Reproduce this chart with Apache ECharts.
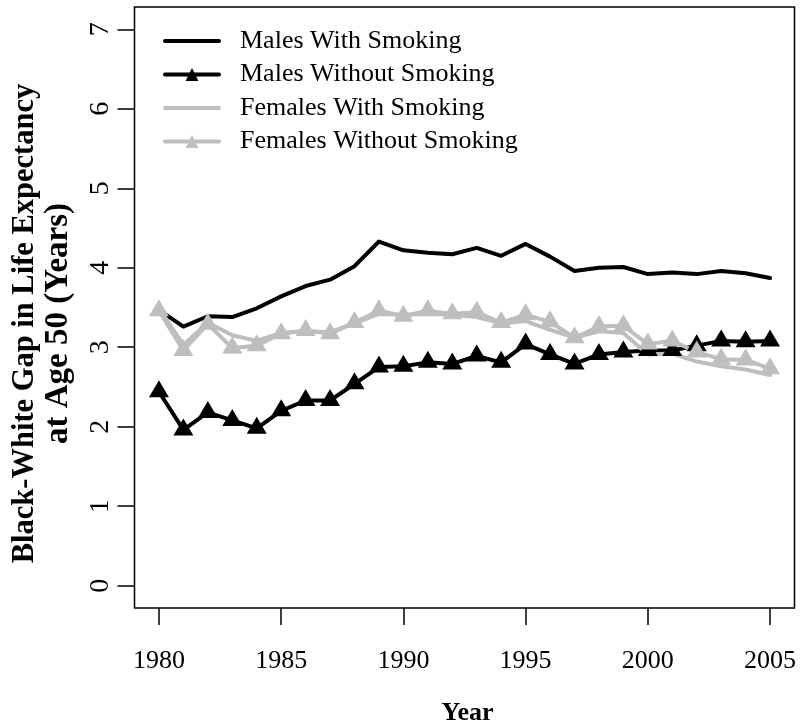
<!DOCTYPE html>
<html>
<head>
<meta charset="utf-8">
<script src="https://cdn.jsdelivr.net/npm/echarts@6/dist/echarts.min.js"></script>
<style>
  html, body { margin: 0; padding: 0; background: #fff; }
  #chart { width: 800px; height: 726px; }
</style>
</head>
<body>
<div id="chart"></div>
<script>
// Black-white gap in life expectancy at age 50, 1980-2005
const years = [1980, 1981, 1982, 1983, 1984, 1985, 1986, 1987, 1988, 1989,
               1990, 1991, 1992, 1993, 1994, 1995, 1996, 1997, 1998, 1999,
               2000, 2001, 2002, 2003, 2004, 2005];

const malesWithSmoking = [3.47, 3.26, 3.39, 3.38, 3.49, 3.64, 3.77, 3.85, 4.02, 4.33,
                          4.22, 4.19, 4.17, 4.25, 4.15, 4.30, 4.14, 3.96, 4.00, 4.01,
                          3.92, 3.94, 3.92, 3.96, 3.93, 3.87];
const malesWithoutSmoking = [2.44, 1.96, 2.18, 2.08, 1.98, 2.20, 2.33, 2.33, 2.54, 2.75,
                             2.76, 2.81, 2.79, 2.89, 2.81, 3.04, 2.91, 2.79, 2.91, 2.94,
                             2.96, 2.96, 3.02, 3.08, 3.07, 3.08];
const femalesWithSmoking = [3.49, 3.03, 3.31, 3.15, 3.08, 3.18, 3.20, 3.19, 3.30, 3.42,
                            3.41, 3.42, 3.41, 3.38, 3.30, 3.33, 3.22, 3.12, 3.20, 3.18,
                            2.91, 2.92, 2.82, 2.76, 2.72, 2.65];
const femalesWithoutSmoking = [3.46, 2.96, 3.29, 2.99, 3.02, 3.17, 3.21, 3.17, 3.31, 3.46,
                               3.39, 3.46, 3.42, 3.44, 3.31, 3.41, 3.32, 3.12, 3.26, 3.27,
                               3.04, 3.08, 2.94, 2.85, 2.84, 2.73];

const xTicks = [1980, 1985, 1990, 1995, 2000, 2005];
const yTicks = [0, 1, 2, 3, 4, 5, 6, 7];

const seriesNames = ['Males With Smoking', 'Males Without Smoking',
                     'Females With Smoking', 'Females Without Smoking'];

const yTitleLine1 = 'Black-White Gap in Life Expectancy';
const yTitleLine2 = 'at Age 50 (Years)';

const SERIF = "'Liberation Serif', 'Times New Roman', serif";
const GRAY = '#bebebe';

function pairs(values) {
  return years.map((y, i) => [y, values[i]]);
}

function lineSeries(name, values, color, withMarkers) {
  return {
    name: name,
    type: 'line',
    data: pairs(values),
    showSymbol: withMarkers,
    symbol: withMarkers ? 'triangle' : 'none',
    symbolSize: [20, 17],
    symbolOffset: [0, -3],
    lineStyle: { color: color, width: 4, cap: 'round', join: 'round' },
    itemStyle: { color: color },
    emphasis: { disabled: true },
    animation: false
  };
}

const chart = echarts.init(document.getElementById('chart'), null, { renderer: 'canvas' });

chart.setOption({
  backgroundColor: '#ffffff',
  animation: false,
  grid: {
    left: 134.5, top: 7, width: 660, height: 601,
    outerBoundsMode: 'none',
    containLabel: false,
    show: true, borderColor: '#000', borderWidth: 1.5, backgroundColor: 'transparent'
  },
  legend: {
    // plain lines carry no marker in the key
    data: [
      { name: seriesNames[0], itemStyle: { opacity: 0 } },
      { name: seriesNames[1] },
      { name: seriesNames[2], itemStyle: { opacity: 0 } },
      { name: seriesNames[3] }
    ],
    orient: 'vertical',
    left: 163, top: 28,
    padding: 0,
    itemWidth: 54, itemHeight: 16,
    itemGap: 7.5,
    selectedMode: false,
    lineStyle: { width: 4 },
    textStyle: { fontFamily: SERIF, fontSize: 26, color: '#000', lineHeight: 26, padding: [0, 0, 0, 16] }
  },
  xAxis: {
    type: 'value',
    min: 1979, max: 2006,
    name: 'Year',
    nameLocation: 'middle',
    nameGap: 92,
    nameTextStyle: { fontFamily: SERIF, fontSize: 26, fontWeight: 'bold', color: '#000', padding: [0, 0, 0, 6] },
    axisLine: { show: false, onZero: false },
    splitLine: { show: false },
    axisTick: { show: true, inside: false, length: 17, lineStyle: { color: '#000', width: 1.5 }, customValues: xTicks },
    axisLabel: { fontFamily: SERIF, fontSize: 26, color: '#000', margin: 40, customValues: xTicks, formatter: v => String(v) }
  },
  yAxis: {
    type: 'value',
    min: -0.28, max: 7.28,
    name: '{l1|' + yTitleLine1 + '}\n{l2|' + yTitleLine2 + '}',
    nameLocation: 'middle',
    nameRotate: 90,
    nameGap: 60,
    nameTextStyle: {
      color: '#000',
      align: 'center',
      padding: [0, 32, 0, 0],
      rich: {
        l1: { fontFamily: SERIF, fontSize: 30.5, fontWeight: 'bold', color: '#000', lineHeight: 33 },
        l2: { fontFamily: SERIF, fontSize: 33, fontWeight: 'bold', color: '#000', lineHeight: 33 }
      }
    },
    axisLine: { show: false, onZero: false },
    splitLine: { show: false },
    axisTick: { show: true, inside: false, length: 17, lineStyle: { color: '#000', width: 1.5 }, customValues: yTicks },
    axisLabel: { fontFamily: SERIF, fontSize: 28, color: '#000', margin: 19.5, rotate: 90, customValues: yTicks, formatter: v => String(v) }
  },
  series: [
    lineSeries(seriesNames[0], malesWithSmoking, '#000', false),
    lineSeries(seriesNames[1], malesWithoutSmoking, '#000', true),
    lineSeries(seriesNames[2], femalesWithSmoking, GRAY, false),
    lineSeries(seriesNames[3], femalesWithoutSmoking, GRAY, true)
  ]
});
</script>
</body>
</html>
